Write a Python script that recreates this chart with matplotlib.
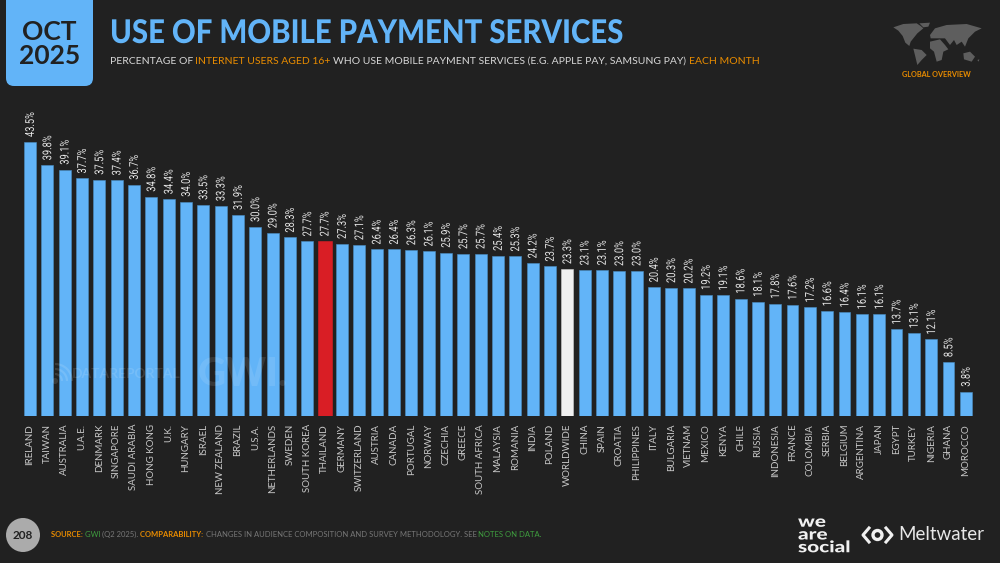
import matplotlib
matplotlib.use('Agg')
import matplotlib.pyplot as plt
from matplotlib.patches import FancyBboxPatch, Circle, Polygon, Arc
from matplotlib.patheffects import AbstractPathEffect
from matplotlib.transforms import Affine2D

countries = ['IRELAND', 'TAIWAN', 'AUSTRALIA', 'U.A.E.', 'DENMARK', 'SINGAPORE', 'SAUDI ARABIA', 'HONG KONG',
             'U.K.', 'HUNGARY', 'ISRAEL', 'NEW ZEALAND', 'BRAZIL', 'U.S.A.', 'NETHERLANDS', 'SWEDEN',
             'SOUTH KOREA', 'THAILAND', 'GERMANY', 'SWITZERLAND', 'AUSTRIA', 'CANADA', 'PORTUGAL', 'NORWAY',
             'CZECHIA', 'GREECE', 'SOUTH AFRICA', 'MALAYSIA', 'ROMANIA', 'INDIA', 'POLAND', 'WORLDWIDE',
             'CHINA', 'SPAIN', 'CROATIA', 'PHILIPPINES', 'ITALY', 'BULGARIA', 'VIETNAM', 'MEXICO',
             'KENYA', 'CHILE', 'RUSSIA', 'INDONESIA', 'FRANCE', 'COLOMBIA', 'SERBIA', 'BELGIUM',
             'ARGENTINA', 'JAPAN', 'EGYPT', 'TURKEY', 'NIGERIA', 'GHANA', 'MOROCCO']
values = [43.5, 39.8, 39.1, 37.7, 37.5, 37.4, 36.7, 34.8,
          34.4, 34.0, 33.5, 33.3, 31.9, 30.0, 29.0, 28.3,
          27.7, 27.7, 27.3, 27.1, 26.4, 26.4, 26.3, 26.1,
          25.9, 25.7, 25.7, 25.4, 25.3, 24.2, 23.7, 23.3,
          23.1, 23.1, 23.0, 23.0, 20.4, 20.3, 20.2, 19.2,
          19.1, 18.6, 18.1, 17.8, 17.6, 17.2, 16.6, 16.4,
          16.1, 16.1, 13.7, 13.1, 12.1, 8.5, 3.8]

BG = '#212121'
BLUE = '#62b4f8'
ORANGE = '#e98c00'
GREEN = '#3f9e3f'

plt.rcParams['font.family'] = ['Lato', 'DejaVu Sans']


class Squeeze(AbstractPathEffect):
    # estrecha el texto a lo largo de la linea base, no hay fuente condensada
    def __init__(self, sx):
        self.sx = sx

    def draw_path(self, renderer, gc, tpath, affine, rgbFace=None):
        renderer.draw_path(gc, tpath, Affine2D().scale(self.sx, 1) + affine, rgbFace)


fig = plt.figure(figsize=(10, 5.63), dpi=100, facecolor=BG)

# capa en pixeles para todo lo que no es dato
over = fig.add_axes([0, 0, 1, 1], zorder=0)
over.set_xlim(0, 1000)
over.set_ylim(563, 0)
over.axis('off')

# grafico de barras
px_per_bar = 17.33
px_per_unit = 6.29
left = 30 - 0.5 * px_per_bar
width = 55 * px_per_bar
height = 44 * px_per_unit
ax = fig.add_axes([left / 1000, (563 - 415.5) / 563, width / 1000, height / 563], zorder=1)
ax.set_facecolor('none')
colors = []
for c in countries:
    if c == 'THAILAND':
        colors.append('#d91e25')
    elif c == 'WORLDWIDE':
        colors.append('#f0f0f0')
    else:
        colors.append(BLUE)
edges = ['#d91e25' if c == 'THAILAND' else '#4a8fc4' if c != 'WORLDWIDE' else '#d0d0d0' for c in countries]
widths = [0.8 if c == 'THAILAND' else 0.69 for c in countries]
x = list(range(len(values)))
ax.bar(x, values, width=widths, color=colors, edgecolor=edges, linewidth=0.4)
ax.set_xlim(-0.5, 54.5)
ax.set_ylim(0, 44)
ax.axis('off')
for i, v in enumerate(values):
    ax.annotate(f'{v:.1f}%', (i, v), xytext=(0.3, 3.5), textcoords='offset points', rotation=90,
                ha='center', va='bottom', color='#e6e6e6', fontsize=8.8, family='Roboto',
                path_effects=[Squeeze(0.76)])
    ax.annotate(countries[i], (i, 0), xytext=(0, -6), textcoords='offset points', rotation=90,
                ha='center', va='top', color='#c8c8c8', fontsize=7)


def row(x0, y, parts, size):
    # escribe trozos de texto de distintos colores uno detras de otro
    r = fig.canvas.get_renderer()
    for s, col, weight in parts:
        t = over.text(x0, y, s, color=col, fontsize=size, fontweight=weight, va='center', ha='left')
        x0 = x0 + t.get_window_extent(r).width
    return x0


# cabecera
over.add_patch(FancyBboxPatch((6, -20), 87, 106, boxstyle='round,pad=0,rounding_size=8', fc=BLUE, ec='none'))
over.text(49.5, 32, 'OCT', color=BG, fontsize=19, fontweight='bold', ha='center', va='center')
over.text(49.5, 56.5, '2025', color=BG, fontsize=19, fontweight='bold', ha='center', va='center')
over.text(110, 33.5, 'USE OF MOBILE PAYMENT SERVICES', color=BLUE, fontsize=23.5, fontweight='black',
          ha='left', va='center', path_effects=[Squeeze(0.9)])
row(109.5, 61, [('PERCENTAGE OF ', '#d8d8d8', 'normal'),
                ('INTERNET USERS AGED 16+ ', ORANGE, 'normal'),
                ('WHO USE MOBILE PAYMENT SERVICES (E.G. APPLE PAY, SAMSUNG PAY) ', '#d8d8d8', 'normal'),
                ('EACH MONTH', ORANGE, 'normal')], 7.5)

land = [
    [(40, 52), (70, 42), (110, 40), (122, 48), (130, 55), (112, 70), (100, 85), (92, 95), (88, 108), (76, 98), (68, 78), (55, 62)],
    [(118, 40), (150, 38), (145, 50), (130, 52)],
    [(100, 116), (125, 120), (140, 135), (125, 150), (112, 165), (106, 140)],
    [(150, 95), (180, 88), (195, 105), (205, 118), (190, 125), (185, 150), (170, 155), (162, 125), (150, 115)],
    [(150, 75), (165, 55), (200, 45), (260, 42), (305, 55), (285, 65), (265, 85), (255, 110), (245, 95), (230, 105), (222, 90), (210, 105), (195, 85), (170, 85), (152, 85)],
    [(250, 130), (270, 125), (285, 140), (275, 155), (252, 148)],
    [(292, 150), (298, 148), (296, 155)],
]
for p in land:
    over.add_patch(Polygon([(880 + a / 3, 10 + b / 3) for a, b in p], closed=True, fc='#5e5e5e', ec='none'))
over.text(936.5, 74.5, 'GLOBAL OVERVIEW', color=ORANGE, fontsize=5.2, fontweight='bold', ha='center', va='center')

# marca de agua
over_top = fig.add_axes([0, 0, 1, 1], zorder=2)
over_top.set_xlim(0, 1000)
over_top.set_ylim(563, 0)
over_top.axis('off')
over_top.text(72, 374, 'DATAREPORTAL', color='white', alpha=0.12, fontsize=10, fontweight='bold', ha='left', va='center')
over_top.text(198, 374, 'GWI.', color='white', alpha=0.1, fontsize=28, fontweight='black', ha='left', va='center')
for r in [7, 12, 17]:
    over_top.add_patch(Arc((55, 381), 2 * r, 2 * r, theta1=270, theta2=360, color='white', alpha=0.12, lw=1.6))
over_top.add_patch(Circle((55, 381), 3, fc='white', alpha=0.12, ec='none'))

# pie
over.add_patch(Circle((23, 535), 17, fc='#ababab', ec='none'))
over.text(23, 535.5, '208', color=BG, fontsize=8.5, fontweight='bold', ha='center', va='center')
row(51, 534.5, [('SOURCE: ', ORANGE, 'bold'), ('GWI ', GREEN, 'normal'), ('(Q2 2025). ', '#777777', 'normal'),
                ('COMPARABILITY: ', ORANGE, 'bold'),
                ('CHANGES IN AUDIENCE COMPOSITION AND SURVEY METHODOLOGY. SEE ', '#777777', 'normal'),
                ('NOTES ON DATA.', GREEN, 'normal')], 5.5)

# logos
over.text(798, 534.5, 'we\nare\nsocial', color='#f0f0f0', fontsize=11.5, fontweight='black', ha='left', va='center',
          linespacing=0.75, path_effects=[Squeeze(1.3)])
over.text(898, 535, 'Meltwater', color='#e8e8e8', fontsize=13.5, ha='left', va='center')
over.add_patch(Circle((877.5, 535), 4.5, fc='none', ec='#f0f0f0', lw=2.4))
over.plot([869, 863, 869], [528, 535, 542], color='#f0f0f0', lw=2.2)
over.plot([886, 892, 886], [528, 535, 542], color='#f0f0f0', lw=2.2)

fig.savefig('out.png', dpi=100, facecolor=BG)
